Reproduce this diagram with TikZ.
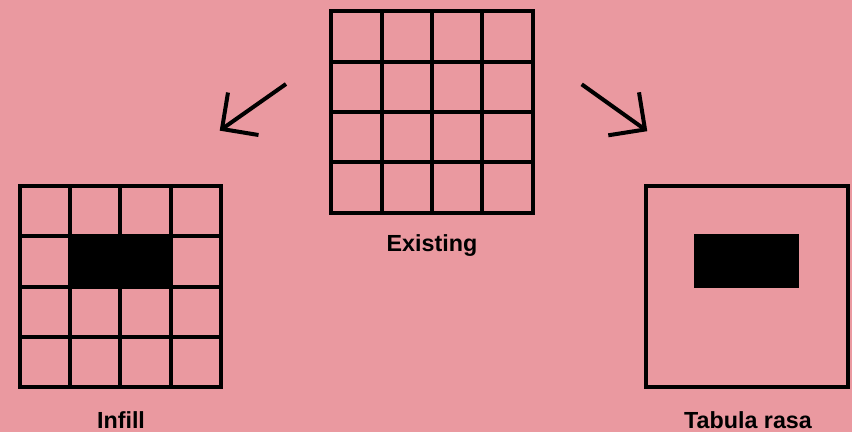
\documentclass[tikz,border=0pt]{standalone}
\usepackage{fontspec}
\setmainfont{Liberation Sans}
\definecolor{bgpink}{RGB}{234,153,160}
\begin{document}
\begin{tikzpicture}[x=1pt,y=-1pt,
  line/.style={line width=4pt},
  gridbox/.style={draw,line width=4pt,minimum width=201.6pt,minimum height=201.6pt,inner sep=0pt,outer sep=0pt},
  lbl/.style={font=\bfseries\fontsize{23.3}{23.3}\selectfont,inner sep=0pt}]
\fill[bgpink] (0,0) rectangle (852,432);
\useasboundingbox (0,0) rectangle (852,432);
% Existing
\node[gridbox] (existing) at (432,112) {};
\foreach \i in {1,2,3}{
  \draw[line] ([xshift=\i*50.4pt]existing.north west) -- ([xshift=\i*50.4pt]existing.south west);
  \draw[line] ([yshift=-\i*50.4pt]existing.north west) -- ([yshift=-\i*50.4pt]existing.north east);
}
\node[lbl] (existinglbl) at (432,246) {Existing};
% Infill
\node[gridbox] (infill) at (120.3,286.5) {};
\fill ([xshift=48.4pt,yshift=-48.4pt]infill.north west) rectangle ([xshift=153.2pt,yshift=-102.8pt]infill.north west);
\foreach \i in {1,2,3}{
  \draw[line] ([xshift=\i*50.4pt]infill.north west) -- ([xshift=\i*50.4pt]infill.south west);
  \draw[line] ([yshift=-\i*50.4pt]infill.north west) -- ([yshift=-\i*50.4pt]infill.north east);
}
\node[lbl] (infilllbl) at (121,420) {Infill};
% Tabula rasa
\node[gridbox] (tabula) at (746.7,286.5) {};
\node[fill=black,minimum width=104.7pt,minimum height=53.7pt,inner sep=0pt,outer sep=0pt] (block) at (746.65,260.85) {};
\node[lbl] (tabulalbl) at (748,420) {Tabula rasa};
% arrows
\coordinate (ls) at (286,84);
\coordinate (lt) at (222,129);
\coordinate (la) at (228,92.5);
\coordinate (lb) at (258.5,135);
\draw[line] (ls) -- (lt);
\draw[line,line join=miter] (la) -- (lt) -- (lb);
\coordinate (rs) at (581.7,84.3);
\coordinate (rt) at (645,129.5);
\coordinate (ra) at (639,92.3);
\coordinate (rb) at (608.3,135.3);
\draw[line] (rs) -- (rt);
\draw[line,line join=miter] (ra) -- (rt) -- (rb);
\end{tikzpicture}
\end{document}
